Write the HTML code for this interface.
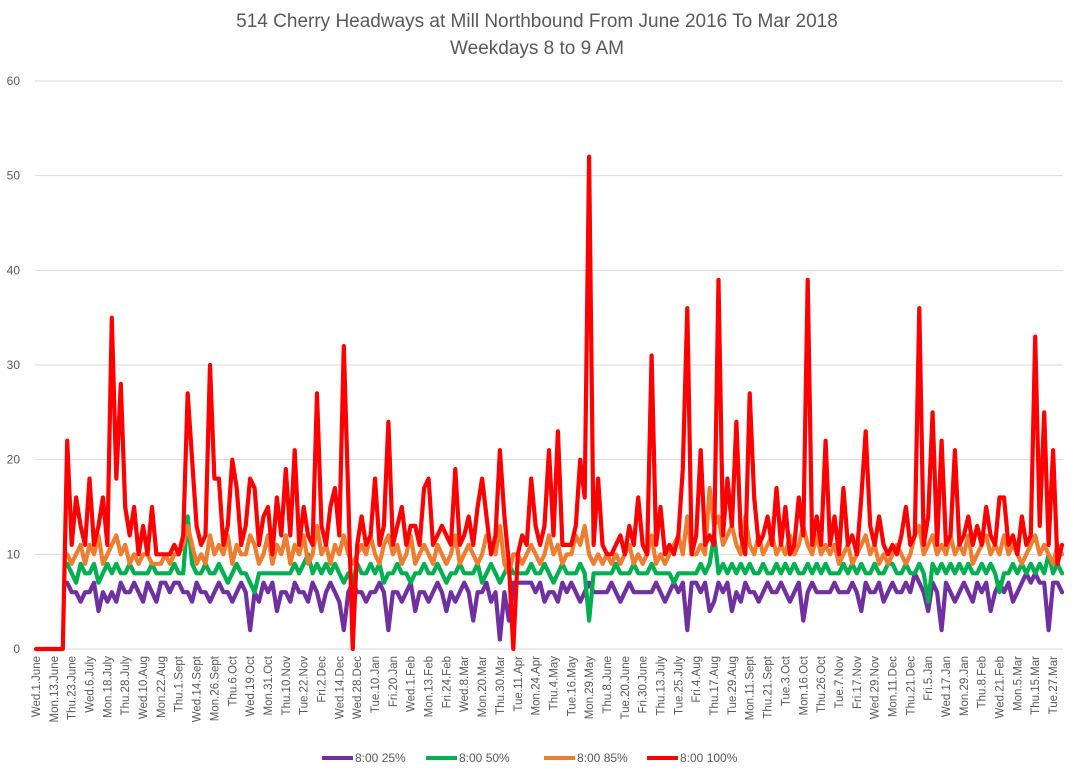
<!DOCTYPE html>
<html><head><meta charset="utf-8">
<style>
body{margin:0;background:#fff;}
svg{display:block;font-family:"Liberation Sans",sans-serif;}
</style></head>
<body>
<svg id="chart" width="1074" height="773">
<rect x="0" y="0" width="1074" height="773" fill="#fff"/>
<text x="537" y="27" text-anchor="middle" font-size="19" fill="#595959">514 Cherry Headways at Mill Northbound From June 2016 To Mar 2018</text>
<text x="537" y="54" text-anchor="middle" font-size="19" fill="#595959">Weekdays 8 to 9 AM</text>
<g id="grid"></g><g id="series"></g><g id="xlabels"></g>
<g id="legend"></g>
</svg>
<script>
const tickLabels=["Wed.1.June","Mon.13.June","Thu.23.June","Wed.6.July","Mon.18.July","Thu.28.July","Wed.10.Aug","Mon.22.Aug","Thu.1.Sept","Wed.14.Sept","Mon.26.Sept","Thu.6.Oct","Wed.19.Oct","Mon.31.Oct","Thu.10.Nov","Tue.22.Nov","Fri.2.Dec","Wed.14.Dec","Wed.28.Dec","Tue.10.Jan","Fri.20.Jan","Wed.1.Feb","Mon.13.Feb","Fri.24.Feb","Wed.8.Mar","Mon.20.Mar","Thu.30.Mar","Tue.11.Apr","Mon.24.Apr","Thu.4.May","Tue.16.May","Mon.29.May","Thu.8.June","Tue.20.June","Fri.30.June","Thu.13.July","Tue.25.July","Fri.4.Aug","Thu.17.Aug","Tue.29.Aug","Mon.11.Sept","Thu.21.Sept","Tue.3.Oct","Mon.16.Oct","Thu.26.Oct","Tue.7.Nov","Fri.17.Nov","Wed.29.Nov","Mon.11.Dec","Thu.21.Dec","Fri.5.Jan","Wed.17.Jan","Mon.29.Jan","Thu.8.Feb","Wed.21.Feb","Mon.5.Mar","Thu.15.Mar","Tue.27.Mar"];
const yTicks=[0,10,20,30,40,50,60];
const seriesNames=["8:00 25%","8:00 50%","8:00 85%","8:00 100%"];
const p25=[null,null,null,null,null,null,null,
7,6,6,5,6,6,7,4,6,5, 6,5,7,6,6,7,6,5,7,6, 5,7,7,6,7,7,6,6,5,7, 6,6,5,6,7,6,6,5,6,7,
6,2,6,5,7,6,7,4,6,6, 5,7,6,6,5,7,6,4,6,7, 6,5,2,6,7,6,6,5,6,6, 7,6,2,6,6,5,6,7,4,6,
6,5,6,7,6,4,6,5,6,7, 6,3,6,6,7,5,6,1,6,3, 7,7,7,7,7,6,7,5,6,6, 5,7,6,7,6,5,6,7,6,6,
6,6,7,6,5,6,7,6,6,6, 6,6,7,6,5,6,7,6,7,2, 7,7,6,7,4,5,7,6,7,4, 6,5,7,6,6,5,6,7,6,6,
7,6,5,6,7,3,6,7,6,6, 6,6,7,6,6,6,7,6,4,7, 6,6,7,5,6,7,6,6,7,6, 8,7,6,4,7,6,2,7,6,5,
6,7,6,5,7,6,7,4,6,7, 6,7,5,6,7,8,7,8,7,7, 2,7,7,6];
const p50=[null,null,null,null,null,null,null,
9,8,7,9,8,8,9,7,8,9, 8,9,8,8,9,8,8,8,8,9, 8,8,8,8,9,8,8,14,9,8, 8,9,8,8,9,8,7,8,9,8,
8,7,6,8,8,8,8,8,8,8, 8,9,8,9,10,8,9,8,9,8, 9,8,7,8,7,9,8,8,9,8, 9,7,8,8,9,8,8,7,8,8,
9,8,8,9,8,7,8,8,9,8, 8,8,9,7,8,9,8,7,8,9, 8,8,8,8,9,8,8,9,8,7, 8,9,8,8,8,9,8,3,8,8,
8,8,8,9,8,8,8,9,8,8, 8,9,8,8,8,8,7,8,8,8, 8,8,9,8,9,12,8,9,8,9, 8,9,8,9,8,8,9,8,8,9,
8,9,8,9,8,8,9,8,9,8, 9,8,8,8,9,8,9,8,9,8, 8,9,8,8,9,9,8,8,9,8, 8,9,8,5,9,8,9,8,9,8,
9,8,9,8,8,9,8,9,8,6, 8,8,9,8,9,8,9,8,9,8, 10,8,9,8];
const p85=[null,null,null,null,null,null,null,
10,9,10,11,9,11,10,12,9,10, 11,12,10,11,9,10,9,10,10,9, 9,9,10,9,10,10,11,13,11,9, 10,9,12,10,11,10,12,9,11,10,
10,12,11,9,10,12,9,11,10,12, 9,11,10,12,9,10,13,10,11,9, 11,10,12,10,9,10,11,10,12,10, 9,11,12,10,11,9,10,12,9,10,
11,10,9,11,10,9,10,12,9,10, 11,10,9,10,12,11,10,13,9,8, 10,10,9,10,11,10,9,10,12,10, 11,9,10,10,12,11,13,10,9,10,
9,10,9,10,9,10,11,9,10,9, 10,12,9,10,9,10,11,12,10,14, 10,10,11,10,17,13,14,11,12,13, 11,10,14,11,10,12,10,11,12,10,
11,10,12,10,11,13,11,10,12,10, 11,10,11,9,10,11,9,10,11,12, 10,11,9,10,9,10,11,10,9,10, 12,13,10,11,12,10,11,10,12,10,
11,10,12,9,10,11,12,10,11,10, 12,10,11,10,9,10,11,12,10,11, 10,9,11,10];
const p100=[0,0,0,0,0,0,0,
22,11,16,13,11,18,11,13,16,11, 35,18,28,15,12,15,10,13,10,15, 10,10,10,10,11,10,12,27,20,13, 11,12,30,18,18,11,13,20,17,11,
13,18,17,11,14,15,10,16,12,19, 12,21,11,15,12,11,27,13,11,15, 17,12,32,16,0,11,14,11,12,18, 11,13,24,11,13,15,11,13,13,11,
17,18,11,12,13,12,11,19,11,12, 14,11,15,18,14,10,12,21,14,9, 0,10,12,11,18,13,11,13,21,12, 23,11,11,11,13,20,16,52,11,18,
11,10,10,11,12,10,13,11,16,11, 10,31,11,15,10,11,10,12,19,36, 10,12,21,11,12,11,39,12,18,13, 24,12,10,27,16,11,12,14,11,17,
11,15,10,11,16,12,39,11,14,11, 22,11,14,10,17,11,12,10,16,23, 13,11,14,11,10,11,10,12,15,11, 12,36,11,14,25,11,22,11,12,21,
11,12,14,11,13,11,15,12,11,16, 16,11,12,10,14,11,12,33,13,25, 11,21,9,11];
const colors=["#7030A0","#00B050","#ED7D31","#FF0000"];
const NS="http://www.w3.org/2000/svg";
const X0=36,X1=1062,Y0=649,Y60=81,GX0=35,GX1=1063;
const N=p100.length;
function xs(i){return X0+i*(X1-X0)/(N-1);}
function ys(v){return Y0-(v/60)*(Y0-Y60);}
const grid=document.getElementById('grid');
yTicks.forEach(t=>{
  const l=document.createElementNS(NS,'line');
  l.setAttribute('x1',GX0);l.setAttribute('x2',GX1);l.setAttribute('y1',ys(t));l.setAttribute('y2',ys(t));
  l.setAttribute('stroke','#d9d9d9');l.setAttribute('stroke-width','1');
  
  
  grid.appendChild(l);
  const tx=document.createElementNS(NS,'text');
  tx.setAttribute('x',20);tx.setAttribute('y',ys(t)+4);tx.setAttribute('text-anchor','end');
  tx.setAttribute('font-size','12');tx.setAttribute('fill','#595959');tx.textContent=t;
  
  
  grid.appendChild(tx);
});
const sg=document.getElementById('series');
[p25,p50,p85,p100].forEach((arr,k)=>{
  let d='';let started=false;
  arr.forEach((v,i)=>{if(v===null)return;d+=(started?'L':'M')+xs(i).toFixed(1)+' '+ys(v).toFixed(1);started=true;});
  const p=document.createElementNS(NS,'path');
  p.setAttribute('d',d);p.setAttribute('fill','none');p.setAttribute('stroke',colors[k]);
  p.setAttribute('stroke-width','4.2');p.setAttribute('stroke-linejoin','round');p.setAttribute('stroke-linecap','round');
  
  
  sg.appendChild(p);
});
const xg=document.getElementById('xlabels');
tickLabels.forEach((lab,j)=>{
  const x=xs(j*4);
  const t=document.createElementNS(NS,'text');
  t.setAttribute('transform','translate('+(x+4).toFixed(1)+',656) rotate(-90)');
  t.setAttribute('text-anchor','end');t.setAttribute('font-size','11.5');t.setAttribute('fill','#595959');
  t.textContent=lab;
  
  
  xg.appendChild(t);
});
const lg=document.getElementById('legend');
const lx=[322,426,544,647];
seriesNames.forEach((n,k)=>{
  const l=document.createElementNS(NS,'line');
  l.setAttribute('x1',lx[k]);l.setAttribute('x2',lx[k]+31);l.setAttribute('y1',758);l.setAttribute('y2',758);
  l.setAttribute('stroke',colors[k]);l.setAttribute('stroke-width','4');
  
  
  lg.appendChild(l);
  const t=document.createElementNS(NS,'text');
  t.setAttribute('x',lx[k]+33);t.setAttribute('y',762);t.setAttribute('font-size','12');t.setAttribute('fill','#595959');
  t.textContent=n;
  
  
  lg.appendChild(t);
});
</script>
</body></html>
